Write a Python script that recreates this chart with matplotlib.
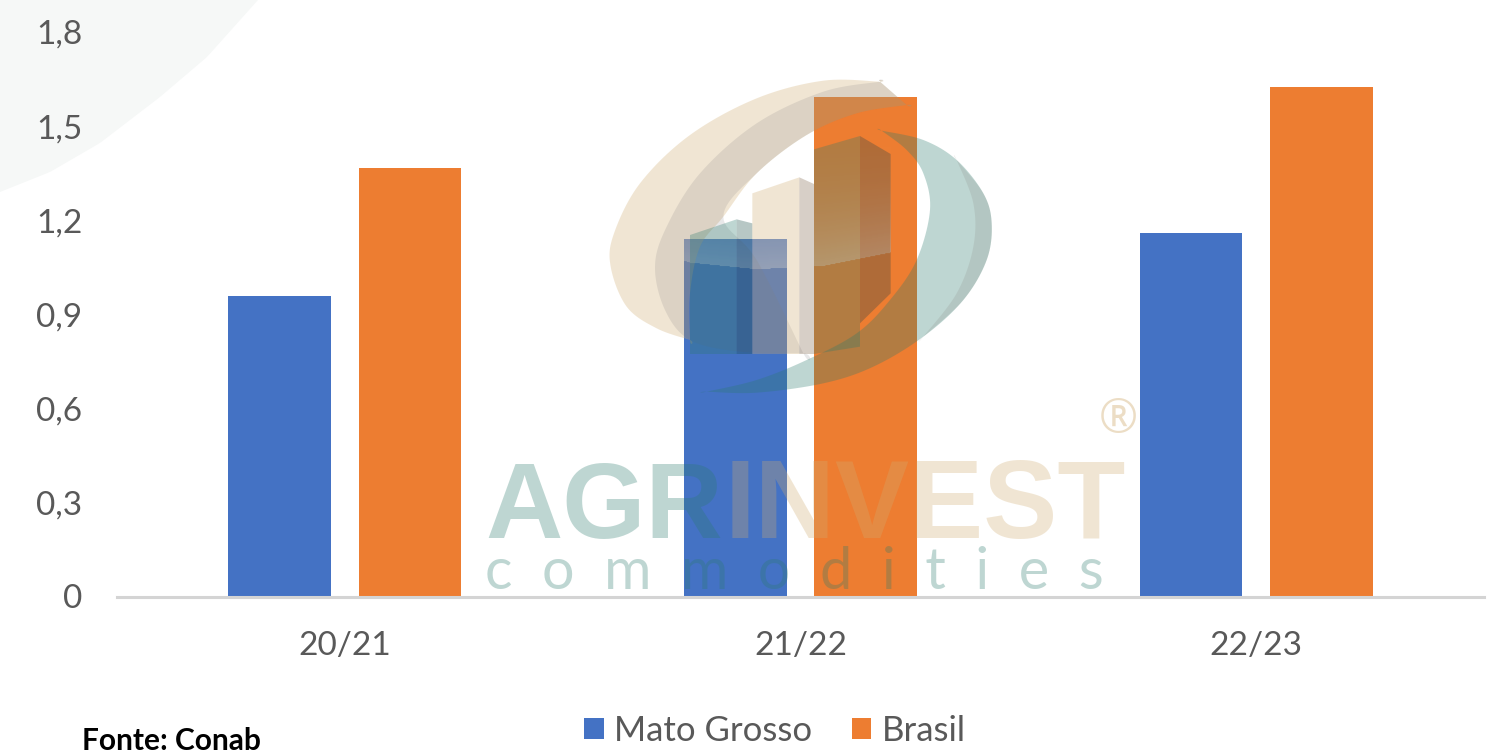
import numpy as np
import matplotlib
matplotlib.use("Agg")
import matplotlib.pyplot as plt
from matplotlib.patches import Polygon

# chart values
seasons = ["20/21", "21/22", "22/23"]
mato_grosso = [0.957, 1.14, 1.158]
brasil = [1.366, 1.593, 1.625]
y_ticks = [0, 0.3, 0.6, 0.9, 1.2, 1.5, 1.8]
y_labels = ["0", "0,3", "0,6", "0,9", "1,2", "1,5", "1,8"]

W, H = 1491, 751
BLUE = "#4472C4"
ORANGE = "#ED7D31"
GREY = "#595959"
TEAL_WM = "#2a7a6c"
TAN_WM = "#d0ac70"
WM_ALPHA = 0.3

plt.rcParams["font.family"] = ["Lato", "DejaVu Sans"]

fig = plt.figure(figsize=(W / 100, H / 100), dpi=100)


def pixel_axes(zorder):
    a = fig.add_axes([0, 0, 1, 1], zorder=zorder)
    a.set_xlim(0, W)
    a.set_ylim(H, 0)
    a.axis("off")
    return a


def smooth(pts, n=12):
    # closed catmull-rom through the traced points, a doubled point gives a sharp tip
    p = np.array(pts, dtype=float)
    out = []
    m = len(p)
    for i in range(m):
        p0, p1, p2, p3 = p[i - 1], p[i], p[(i + 1) % m], p[(i + 2) % m]
        for t in np.linspace(0, 1, n, endpoint=False):
            out.append(0.5 * (2 * p1 + (p2 - p0) * t + (2 * p0 - 5 * p1 + 4 * p2 - p3) * t ** 2
                              + (3 * p1 - p0 - 3 * p2 + p3) * t ** 3))
    return np.array(out)


def logo_xy(pts):
    return [(590 + x / 3, 60 + y / 3) for x, y in pts]


# pale background swoosh in the corner
bg = pixel_axes(0)
corner_edge = [(258, 0), (207, 57), (160, 97), (100, 143), (50, 172), (0, 192)]
t = np.linspace(0, 1, len(corner_edge))
tt = np.linspace(0, 1, 60)
edge_x = np.interp(tt, t, [q[0] for q in corner_edge])
edge_y = np.interp(tt, t, [q[1] for q in corner_edge])
bg.add_patch(Polygon([(0, 0)] + list(zip(edge_x, edge_y)), fc="#f6f8f7", ec="none"))

# bars
ax = fig.add_axes([117 / W, 1 - 596.5 / H, (1484 - 117) / W, (596.5 - 32) / H], zorder=1)
ax.patch.set_alpha(0)
x = np.arange(len(seasons))
b1 = ax.bar(x - 0.143, mato_grosso, 0.225, color=BLUE, label="Mato Grosso")
b2 = ax.bar(x + 0.143, brasil, 0.225, color=ORANGE, label="Brasil")
ax.set_xlim(-0.5, 2.5)
ax.set_ylim(0, 1.8)
ax.set_yticks(y_ticks)
ax.set_yticklabels(y_labels)
ax.set_xticks(x)
ax.set_xticklabels(seasons)
ax.tick_params(length=0, labelsize=24, labelcolor=GREY)
ax.tick_params(axis="x", pad=24.5)
ax.tick_params(axis="y", pad=25)
for s in ["top", "right", "left"]:
    ax.spines[s].set_visible(False)
ax.spines["bottom"].set_color("#d4d4d4")
ax.spines["bottom"].set_linewidth(2.2)

fig.legend(handles=[b1, b2], loc="center", bbox_to_anchor=(775 / W, 1 - 731 / H), ncol=2, frameon=False,
           fontsize=25, labelcolor=GREY, handlelength=0.56, handleheight=0.56, handletextpad=0.3,
           columnspacing=1.15, borderpad=0)

# watermark logo on top of the bars
wm = pixel_axes(2)

tan_swirl = [(870, 65), (870, 65), (700, 62), (500, 115), (300, 225), (150, 370), (72, 520), (62, 620), (110, 740),
             (200, 805), (300, 840), (300, 840), (300, 700), (330, 560), (400, 470), (500, 340), (650, 225), (800, 160),
             (950, 135), (950, 135)]
wm.add_patch(Polygon(logo_xy(smooth(tan_swirl)), fc=TAN_WM, ec="none", alpha=WM_ALPHA))

band = [(870, 65), (870, 65), (700, 95), (500, 190), (330, 340), (230, 500), (195, 620), (225, 750), (300, 840),
        (450, 875), (640, 880), (640, 880), (500, 600), (400, 470), (500, 340), (650, 225), (800, 160),
        (950, 135), (950, 135)]
wm.add_patch(Polygon(logo_xy(smooth(band)), fc="#6a6a70", ec="none", alpha=0.15))

# three little buildings
wm.add_patch(Polygon(logo_xy([(300, 525), (440, 478), (440, 882), (300, 882)]), fc=TEAL_WM, ec="none", alpha=WM_ALPHA))
wm.add_patch(Polygon(logo_xy([(440, 478), (487, 490), (487, 882), (440, 882)]), fc="#124841", ec="none", alpha=WM_ALPHA))
wm.add_patch(Polygon(logo_xy([(487, 400), (628, 352), (628, 882), (487, 882)]), fc=TAN_WM, ec="none", alpha=WM_ALPHA))
wm.add_patch(Polygon(logo_xy([(628, 352), (672, 372), (672, 882), (628, 882)]), fc="#7d6248", ec="none", alpha=WM_ALPHA))
wm.add_patch(Polygon(logo_xy([(672, 268), (810, 228), (810, 860), (672, 882)]), fc=TEAL_WM, ec="none", alpha=WM_ALPHA))
wm.add_patch(Polygon(logo_xy([(810, 228), (902, 282), (902, 700), (810, 790)]), fc="#214449", ec="none", alpha=WM_ALPHA))

teal_swirl = [(875, 212), (875, 212), (1000, 240), (1100, 300), (1180, 400), (1205, 490), (1190, 600), (1120, 720),
              (1000, 830), (850, 920), (700, 970), (500, 998), (350, 995), (350, 995), (500, 960), (650, 900),
              (800, 820), (900, 720), (980, 600), (1020, 450), (1000, 340), (950, 270)]
wm.add_patch(Polygon(logo_xy(smooth(teal_swirl)), fc=TEAL_WM, ec="none", alpha=WM_ALPHA))
wm.add_patch(Polygon(logo_xy(smooth([(1100, 300), (1100, 300), (1180, 400), (1205, 490), (1190, 600), (1120, 720),
                                     (1000, 830), (1000, 830), (1100, 700), (1150, 560), (1150, 430)])),
                     fc="#6a5a50", ec="none", alpha=0.12))

# gloss: white that fades upward from a curve across the logo
gx = np.arange(60, 1210, 3.0)
gy = np.arange(100, 660, 3.0)
GX, GY = np.meshgrid(gx, gy)
curve = np.interp(GX, [65, 300, 500, 700, 900, 1150, 1210], [550, 610, 630, 620, 580, 495, 480])
fade = np.clip((GY - 200) / (curve - 200), 0, 1) ** 2 * 0.3
fade[GY > curve] = 0
rgba = np.ones(GX.shape + (4,))
rgba[..., 3] = fade
extent = [590 + gx[0] / 3, 590 + gx[-1] / 3, 60 + gy[-1] / 3, 60 + gy[0] / 3]
left_clip = Polygon(logo_xy([(60, 100), (902, 100), (902, 660), (60, 660)]), transform=wm.transData)
teal_clip = Polygon(logo_xy(smooth(teal_swirl)), transform=wm.transData)
for clip in [left_clip, teal_clip]:
    im = wm.imshow(rgba, extent=extent, origin="upper", aspect="auto", interpolation="bilinear")
    im.set_clip_path(clip)
wm.set_xlim(0, W)
wm.set_ylim(H, 0)

# watermark wordmark
wm.text(485, 538, "AGR", family="Liberation Sans", weight="bold", fontsize=77, color=TEAL_WM, alpha=WM_ALPHA,
        ha="left", va="baseline")
wm.text(1126, 538, "INVEST", family="Liberation Sans", weight="bold", fontsize=80, color=TAN_WM, alpha=WM_ALPHA,
        ha="right", va="baseline")
wm.text(794, 589, "c  o  m  m  o  d  i  t  i  e  s", family="Lato", fontsize=41.5, color=TEAL_WM, alpha=WM_ALPHA,
        ha="center", va="baseline")
wm.text(1118, 420, "®", family="Open Sans", fontsize=34, color=TAN_WM, alpha=0.4, ha="center", va="center")

# source note, cut by the lower edge as in the picture
wm.text(82, 750, "Fonte: Conab", fontsize=21.5, weight="bold", color="black", ha="left", va="baseline")

fig.savefig("out.png", dpi=100)
